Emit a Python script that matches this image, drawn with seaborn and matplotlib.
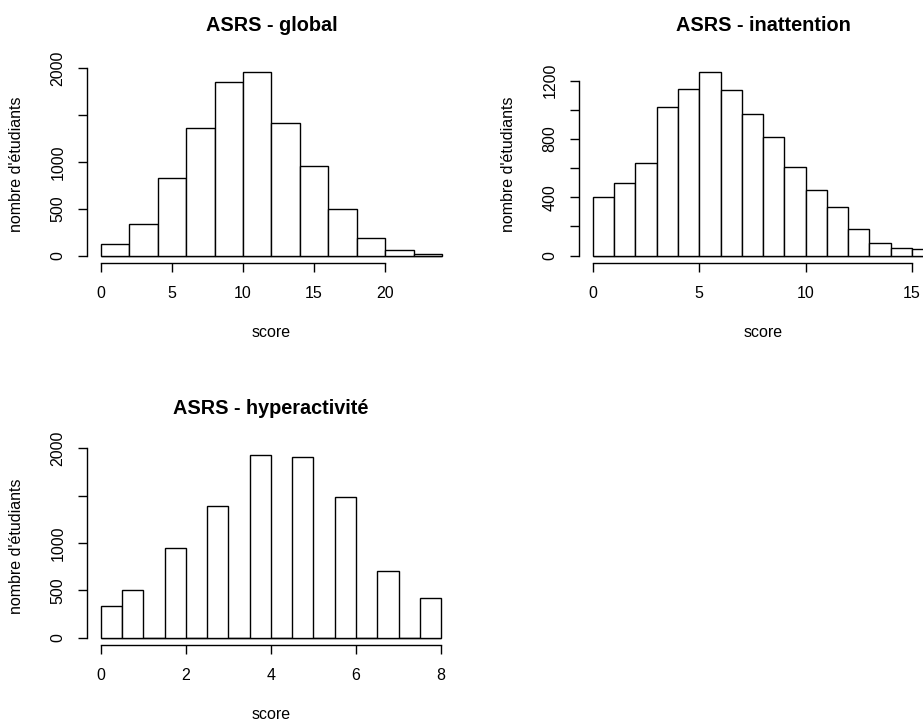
import numpy as np
import pandas as pd
import matplotlib
matplotlib.use('Agg')
import matplotlib.pyplot as plt
import seaborn as sns

# bin edges and counts
global_edges = [0, 2, 4, 6, 8, 10, 12, 14, 16, 18, 20, 22, 24]
global_counts = [125, 342, 829, 1363, 1854, 1961, 1420, 961, 498, 185, 64, 18]

inatt_edges = list(range(0, 17))
inatt_counts = [400, 496, 633, 1022, 1145, 1259, 1136, 969, 811, 608, 453, 331,
                183, 89, 50, 46]

# hyperactivity: R puts the integer scores in right-closed half-width bins
hyper_edges = [0, 0.5, 1, 1.5, 2, 2.5, 3, 3.5, 4, 4.5, 5, 5.5, 6, 6.5, 7, 7.5, 8]
hyper_counts = [333, 502, 0, 951, 0, 1393, 0, 1926, 0, 1909, 0, 1484, 0, 705, 0, 425]

titles = ["ASRS - global", "ASRS - inattention", "ASRS - hyperactivité"]
xlab = "score"
ylab = "nombre d'étudiants"

sns.set_style("ticks")
plt.rcParams['font.family'] = ['Liberation Sans', 'DejaVu Sans']
plt.rcParams['text.color'] = 'black'
plt.rcParams['axes.labelcolor'] = 'black'


def draw_hist(ax, edges, counts, title, xticks, yticks, ylabels):
    e = np.asarray(edges, dtype=float)
    df = pd.DataFrame({"score": (e[:-1] + e[1:]) / 2, "n": counts})
    sns.histplot(data=df, x="score", weights="n", bins=list(edges),
                 stat="count", color="white", edgecolor="black",
                 linewidth=1.0, alpha=1, ax=ax)
    # empty bins show as a flat outline at the baseline, like R
    ax.hlines(0, e[0], e[-1], color="black", linewidth=1.0, zorder=0.5)
    # R style 4% padding around data range
    rng = e[-1] - e[0]
    ax.set_xlim(e[0] - 0.04 * rng, e[-1] + 0.04 * rng)
    ymax = max(counts)
    ax.set_ylim(-0.04 * ymax, 1.04 * ymax)

    ax.set_xticks(xticks, [str(t) for t in xticks], fontsize=11.5)
    ax.set_yticks(yticks, ylabels, rotation=90, va="center", fontsize=11.5)
    ax.tick_params(length=6.5, width=1, color="black", labelcolor="black")
    ax.tick_params(axis="x", pad=10)
    ax.tick_params(axis="y", pad=9)

    for s in ["top", "right"]:
        ax.spines[s].set_visible(False)
    ax.spines["left"].set_bounds(yticks[0], yticks[-1])
    ax.spines["bottom"].set_bounds(xticks[0], xticks[-1])
    for s in ["left", "bottom"]:
        ax.spines[s].set_linewidth(1)
        ax.spines[s].set_color("black")

    ax.set_title(title, fontsize=14.3, fontweight="bold", pad=24, color="black")
    ax.set_xlabel(xlab, fontsize=11.5, color="black")
    ax.set_ylabel(ylab, fontsize=11.5, color="black")
    ax.xaxis.set_label_coords(0.5, -0.31)
    ax.yaxis.set_label_coords(-0.171, 0.5)


fig = plt.figure(figsize=(9.23, 7.24), dpi=100)
ax1 = fig.add_axes([0.0944, 0.6367, 0.3993, 0.2741])
ax2 = fig.add_axes([0.6276, 0.6367, 0.3982, 0.2741])
ax3 = fig.add_axes([0.0944, 0.1087, 0.3982, 0.2729])

draw_hist(ax1, global_edges, global_counts, titles[0],
          [0, 5, 10, 15, 20], [0, 500, 1000, 1500, 2000],
          ["0", "500", "1000", "", "2000"])
draw_hist(ax2, inatt_edges, inatt_counts, titles[1],
          [0, 5, 10, 15], [0, 200, 400, 600, 800, 1000, 1200],
          ["0", "", "400", "", "800", "", "1200"])
draw_hist(ax3, hyper_edges, hyper_counts, titles[2],
          [0, 2, 4, 6, 8], [0, 500, 1000, 1500, 2000],
          ["0", "500", "1000", "", "2000"])

fig.savefig("out.png", dpi=100, facecolor="white")
